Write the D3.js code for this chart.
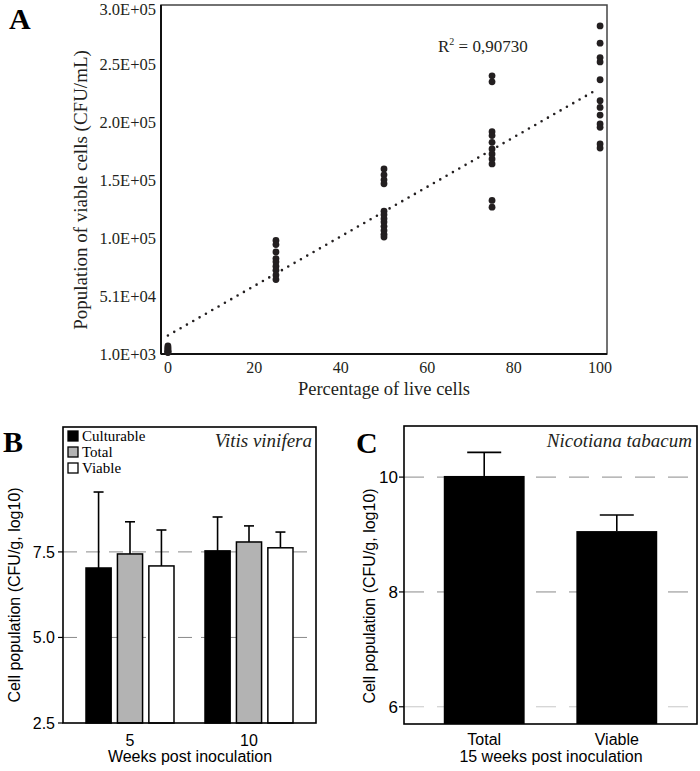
<!DOCTYPE html>
<html>
<head>
<meta charset="utf-8">
<script src="https://cdn.jsdelivr.net/npm/d3@7"></script>
<style>
  body { margin: 0; background: #fff; }
  svg { display: block; }
</style>
</head>
<body>
<div class="fig"></div>
<script>
// ---- panel A data: population of viable cells by % live cells
var pctLive = [0, 25, 50, 75, 100];
var cfuAt0 = [2200, 2700, 3300, 3600, 4500, 5500, 6500, 7900];
var cfuAt25 = [98900, 95300, 88900, 83200, 80400, 76700, 73200, 69000, 65200];
var cfuAt50 = [160500, 155400, 151100, 147700, 124100, 121000, 117600, 114700, 111000, 107500, 104100, 101800];
var cfuAt75 = [240700, 235500, 192600, 189200, 183400, 177700, 173400, 169100, 164800, 133300, 127500];
var cfuAt100 = [283700, 268800, 256400, 252700, 237300, 219200, 213500, 206900, 199200, 196300, 182000, 178500];
var aYTicks = [1000, 50833, 100667, 150500, 200333, 250167, 300000];
var aYTickLabels = ["1.0E+03", "5.1E+04", "1.0E+05", "1.5E+05", "2.0E+05", "2.5E+05", "3.0E+05"];
var aXTicks = [0, 20, 40, 60, 80, 100];

// ---- panel B data: Vitis vinifera
var weeksB = ["5", "10"];
var seriesB = ["Culturable", "Total", "Viable"];
var meanB = { "5": [7.03, 7.44, 7.09], "10": [7.53, 7.79, 7.62] };
var errTopB = { "5": [9.25, 8.38, 8.14], "10": [8.52, 8.26, 8.08] };
var bYTicks = [2.5, 5.0, 7.5];

// ---- panel C data: Nicotiana tabacum
var groupsC = ["Total", "Viable"];
var meanC = [10.02, 9.06];
var errTopC = [10.43, 9.34];
var cYTicks = [6, 8, 10];

var W = 700, H = 771;
var serif = "'Liberation Serif', 'Times New Roman', serif";
var sans = "'Liberation Sans', Arial, sans-serif";

var svg = d3.select(".fig").append("svg")
    .attr("width", W)
    .attr("height", H);

// ================= Panel A =================
var xA = d3.scaleLinear().domain([-1.6, 101.6]).range([161, 607]);
var yA = d3.scaleLinear().domain([1000, 300000]).range([354, 7]);

var gA = svg.append("g");

gA.append("rect")
    .attr("x", xA(-1.6)).attr("y", yA(300000) - 2)
    .attr("width", xA(101.6) - xA(-1.6)).attr("height", yA(1000) - yA(300000) + 2)
    .attr("fill", "none").attr("stroke", "#444").attr("stroke-width", 1.5);
gA.append("line")
    .attr("x1", xA(-1.6)).attr("x2", xA(-1.6)).attr("y1", yA(300000) - 2).attr("y2", yA(1000))
    .attr("stroke", "#111").attr("stroke-width", 2);
gA.append("line")
    .attr("x1", xA(-1.6)).attr("x2", xA(101.6)).attr("y1", yA(1000)).attr("y2", yA(1000))
    .attr("stroke", "#111").attr("stroke-width", 2);

gA.selectAll(".ytl").data(aYTicks).enter().append("text")
    .attr("x", 156)
    .attr("y", function (d) { return Math.max(yA(d) + 5.5, 14.5); })
    .attr("text-anchor", "end")
    .attr("font-family", serif).attr("font-size", 16.5).attr("fill", "#231f20")
    .text(function (d, i) { return aYTickLabels[i]; });

gA.selectAll(".xtl").data(aXTicks).enter().append("text")
    .attr("x", function (d) { return xA(d); })
    .attr("y", 373)
    .attr("text-anchor", "middle")
    .attr("font-family", serif).attr("font-size", 16).attr("fill", "#231f20")
    .text(function (d) { return d; });

var points = [];
[cfuAt0, cfuAt25, cfuAt50, cfuAt75, cfuAt100].forEach(function (arr, i) {
    arr.forEach(function (v) { points.push({ x: pctLive[i], y: v }); });
});

// least squares trend line
var mx = d3.mean(points, function (d) { return d.x; });
var my = d3.mean(points, function (d) { return d.y; });
var sxy = d3.sum(points, function (d) { return (d.x - mx) * (d.y - my); });
var sxx = d3.sum(points, function (d) { return (d.x - mx) * (d.x - mx); });
var slope = sxy / sxx, icpt = my - slope * mx;

gA.append("line")
    .attr("x1", xA(0)).attr("y1", yA(icpt))
    .attr("x2", xA(99)).attr("y2", yA(icpt + slope * 99))
    .attr("stroke", "#231f20").attr("stroke-width", 2.6)
    .attr("stroke-linecap", "round")
    .attr("stroke-dasharray", "0 7.3");

gA.selectAll("circle").data(points).enter().append("circle")
    .attr("cx", function (d) { return xA(d.x); })
    .attr("cy", function (d) { return yA(d.y); })
    .attr("r", 3.4)
    .attr("fill", "#231f20");

var r2 = gA.append("text")
    .attr("x", 438).attr("y", 52)
    .attr("font-family", serif).attr("font-size", 17).attr("fill", "#231f20");
r2.append("tspan").text("R");
r2.append("tspan").attr("font-size", 10).attr("dy", -7).text("2");
r2.append("tspan").attr("dy", 7).text(" = 0,90730");

gA.append("text")
    .attr("transform", "translate(87,190) rotate(-90)")
    .attr("text-anchor", "middle")
    .attr("font-family", serif).attr("font-size", 19).attr("fill", "#231f20")
    .text("Population of viable cells (CFU/mL)");

gA.append("text")
    .attr("x", 384).attr("y", 395)
    .attr("text-anchor", "middle")
    .attr("font-family", serif).attr("font-size", 18.5).attr("fill", "#231f20")
    .text("Percentage of live cells");

gA.append("text")
    .attr("x", 9).attr("y", 29)
    .attr("font-family", serif).attr("font-weight", "bold").attr("font-size", 30)
    .text("A");

// ================= Panel B =================
var yB = d3.scaleLinear().domain([2.5, 11.15]).range([723, 427]);
var xB = d3.scalePoint().domain(weeksB).range([63, 316]).padding(0.563);
var xSer = d3.scaleBand().domain(seriesB).range([-44, 44]).paddingInner(0.2);
var fillB = d3.scaleOrdinal().domain(seriesB).range(["#000", "#b3b3b3", "#fff"]);

var gB = svg.append("g");

gB.selectAll(".grid").data([5.0, 7.5]).enter().append("line")
    .attr("x1", 63).attr("x2", 316)
    .attr("y1", function (d) { return yB(d); }).attr("y2", function (d) { return yB(d); })
    .attr("stroke", "#8a8a8a").attr("stroke-width", 1)
    .attr("stroke-dasharray", "14 9");

var barsB = [];
weeksB.forEach(function (w) {
    seriesB.forEach(function (s, i) {
        barsB.push({ week: w, series: s, mean: meanB[w][i], top: errTopB[w][i] });
    });
});

gB.selectAll(".eb").data(barsB).enter().append("line")
    .attr("x1", function (d) { return xB(d.week) + xSer(d.series) + xSer.bandwidth() / 2; })
    .attr("x2", function (d) { return xB(d.week) + xSer(d.series) + xSer.bandwidth() / 2; })
    .attr("y1", function (d) { return yB(d.mean); })
    .attr("y2", function (d) { return yB(d.top); })
    .attr("stroke", "#000").attr("stroke-width", 1.6);
gB.selectAll(".cap").data(barsB).enter().append("line")
    .attr("x1", function (d) { return xB(d.week) + xSer(d.series) + xSer.bandwidth() / 2 - 5; })
    .attr("x2", function (d) { return xB(d.week) + xSer(d.series) + xSer.bandwidth() / 2 + 5; })
    .attr("y1", function (d) { return yB(d.top); })
    .attr("y2", function (d) { return yB(d.top); })
    .attr("stroke", "#000").attr("stroke-width", 1.6);

gB.selectAll(".bar").data(barsB).enter().append("rect")
    .attr("x", function (d) { return xB(d.week) + xSer(d.series); })
    .attr("y", function (d) { return yB(d.mean); })
    .attr("width", xSer.bandwidth())
    .attr("height", function (d) { return yB(2.5) - yB(d.mean); })
    .attr("fill", function (d) { return fillB(d.series); })
    .attr("stroke", "#000").attr("stroke-width", 1.5);

gB.append("rect")
    .attr("x", 63).attr("y", 427).attr("width", 316 - 63).attr("height", 723 - 427)
    .attr("fill", "none").attr("stroke", "#000").attr("stroke-width", 1.6);

gB.selectAll(".ytk").data(bYTicks).enter().append("line")
    .attr("x1", 58).attr("x2", 63)
    .attr("y1", function (d) { return yB(d); }).attr("y2", function (d) { return yB(d); })
    .attr("stroke", "#000").attr("stroke-width", 1.2);
gB.selectAll(".ytl").data(bYTicks).enter().append("text")
    .attr("x", 55).attr("y", function (d) { return yB(d) + 6; })
    .attr("text-anchor", "end")
    .attr("font-family", sans).attr("font-size", 16)
    .text(function (d) { return d3.format(".1f")(d); });

gB.selectAll(".xtl").data(weeksB).enter().append("text")
    .attr("x", function (d) { return xB(d); }).attr("y", 746)
    .attr("text-anchor", "middle")
    .attr("font-family", sans).attr("font-size", 16)
    .text(function (d) { return d; });

gB.append("text")
    .attr("x", 190).attr("y", 762)
    .attr("text-anchor", "middle")
    .attr("font-family", sans).attr("font-size", 16)
    .text("Weeks post inoculation");

gB.append("text")
    .attr("transform", "translate(20,595) rotate(-90)")
    .attr("text-anchor", "middle")
    .attr("font-family", sans).attr("font-size", 16)
    .text("Cell population (CFU/g, log10)");

var legB = gB.selectAll(".leg").data(seriesB).enter().append("g")
    .attr("transform", function (d, i) { return "translate(68," + (431 + i * 16) + ")"; });
legB.append("rect")
    .attr("width", 10).attr("height", 10)
    .attr("fill", function (d) { return fillB(d); })
    .attr("stroke", "#000").attr("stroke-width", 1.3);
legB.append("text")
    .attr("x", 14).attr("y", 10)
    .attr("font-family", serif).attr("font-size", 15)
    .text(function (d) { return d; });

gB.append("text")
    .attr("x", 312).attr("y", 447)
    .attr("text-anchor", "end")
    .attr("font-family", serif).attr("font-style", "italic").attr("font-size", 19)
    .attr("fill", "#231f20")
    .text("Vitis vinifera");

gB.append("text")
    .attr("x", 3).attr("y", 452)
    .attr("font-family", serif).attr("font-weight", "bold").attr("font-size", 30)
    .text("B");

// ================= Panel C =================
var yC = d3.scaleLinear().domain([5.7, 10.89]).range([724, 426]);
var xC = d3.scaleBand().domain(groupsC).range([404, 697]).paddingInner(0.39).paddingOuter(0.3);

var gC = svg.append("g");

gC.selectAll(".grid").data(cYTicks).enter().append("line")
    .attr("x1", 404).attr("x2", 697)
    .attr("y1", function (d) { return yC(d); }).attr("y2", function (d) { return yC(d); })
    .attr("stroke", function (d) { return d === 6 ? "#c8c8c8" : "#8a8a8a"; })
    .attr("stroke-width", 1)
    .attr("stroke-dasharray", "20 13");

gC.selectAll(".eb").data(groupsC).enter().append("line")
    .attr("x1", function (d) { return xC(d) + xC.bandwidth() / 2; })
    .attr("x2", function (d) { return xC(d) + xC.bandwidth() / 2; })
    .attr("y1", function (d, i) { return yC(meanC[i]); })
    .attr("y2", function (d, i) { return yC(errTopC[i]); })
    .attr("stroke", "#000").attr("stroke-width", 1.6);
gC.selectAll(".cap").data(groupsC).enter().append("line")
    .attr("x1", function (d) { return xC(d) + xC.bandwidth() / 2 - 17; })
    .attr("x2", function (d) { return xC(d) + xC.bandwidth() / 2 + 17; })
    .attr("y1", function (d, i) { return yC(errTopC[i]); })
    .attr("y2", function (d, i) { return yC(errTopC[i]); })
    .attr("stroke", "#000").attr("stroke-width", 1.6);

gC.selectAll(".bar").data(groupsC).enter().append("rect")
    .attr("x", function (d) { return xC(d); })
    .attr("y", function (d, i) { return yC(meanC[i]); })
    .attr("width", xC.bandwidth())
    .attr("height", function (d, i) { return yC(5.7) - yC(meanC[i]); })
    .attr("fill", "#000");

gC.append("rect")
    .attr("x", 404).attr("y", 426).attr("width", 697 - 404).attr("height", 724 - 426)
    .attr("fill", "none").attr("stroke", "#000").attr("stroke-width", 1.6);

gC.selectAll(".ytk").data(cYTicks).enter().append("line")
    .attr("x1", 399).attr("x2", 404)
    .attr("y1", function (d) { return yC(d); }).attr("y2", function (d) { return yC(d); })
    .attr("stroke", "#000").attr("stroke-width", 1.2);
gC.selectAll(".ytl").data(cYTicks).enter().append("text")
    .attr("x", 398).attr("y", function (d) { return yC(d) + 6; })
    .attr("text-anchor", "end")
    .attr("font-family", sans).attr("font-size", 17)
    .text(function (d) { return d; });

gC.selectAll(".xtl").data(groupsC).enter().append("text")
    .attr("x", function (d) { return xC(d) + xC.bandwidth() / 2; }).attr("y", 745)
    .attr("text-anchor", "middle")
    .attr("font-family", sans).attr("font-size", 16)
    .text(function (d) { return d; });

gC.append("text")
    .attr("x", 551).attr("y", 762)
    .attr("text-anchor", "middle")
    .attr("font-family", sans).attr("font-size", 16)
    .text("15 weeks post inoculation");

gC.append("text")
    .attr("transform", "translate(375,596) rotate(-90)")
    .attr("text-anchor", "middle")
    .attr("font-family", sans).attr("font-size", 16)
    .text("Cell population (CFU/g, log10)");

gC.append("text")
    .attr("x", 692).attr("y", 447)
    .attr("text-anchor", "end")
    .attr("font-family", serif).attr("font-style", "italic").attr("font-size", 19)
    .attr("fill", "#231f20")
    .text("Nicotiana tabacum");

gC.append("text")
    .attr("x", 356).attr("y", 453)
    .attr("font-family", serif).attr("font-weight", "bold").attr("font-size", 30)
    .text("C");
</script>
</body>
</html>
